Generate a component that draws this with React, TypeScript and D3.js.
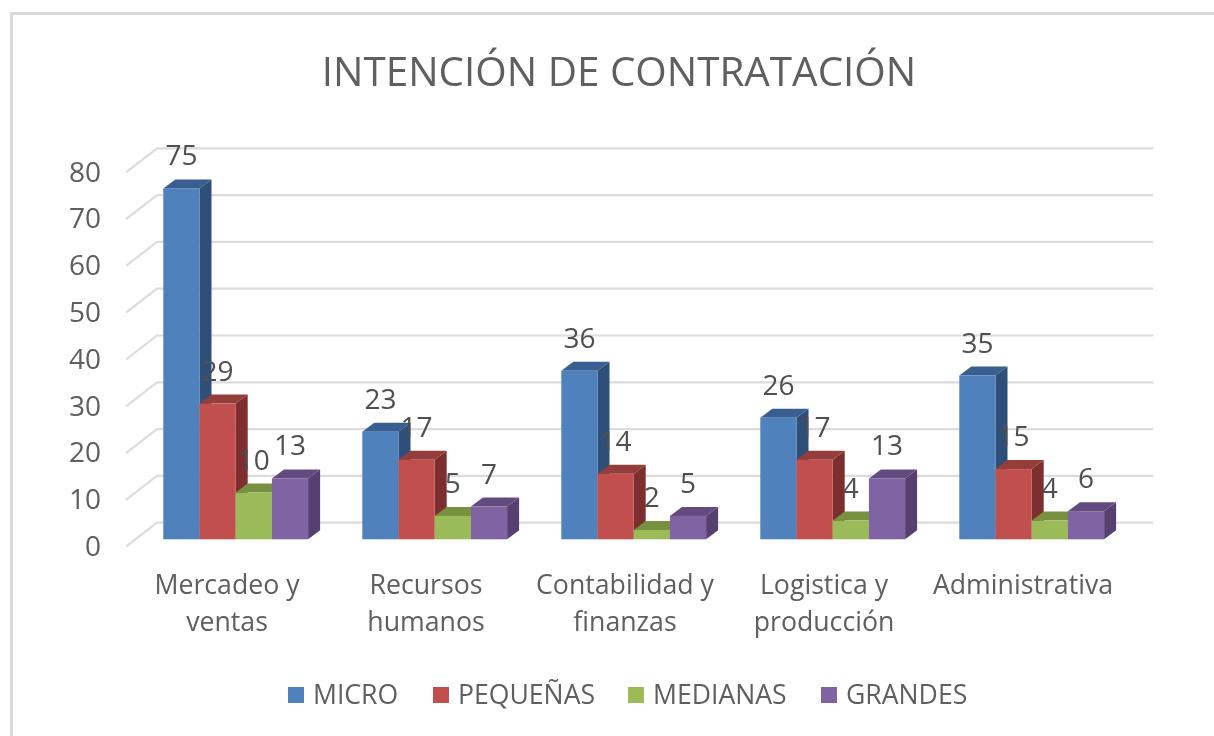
import React from "react";
import * as d3 from "d3";

const categories = [["Mercadeo y", "ventas"], ["Recursos", "humanos"], ["Contabilidad y", "finanzas"], ["Logistica y", "producción"], ["Administrativa"]];
const seriesNames = ["MICRO", "PEQUEÑAS", "MEDIANAS", "GRANDES"];
const micro = [75, 23, 36, 26, 35];
const pequenas = [29, 17, 14, 17, 15];
const medianas = [10, 5, 2, 4, 4];
const grandes = [13, 7, 5, 13, 6];
const seriesValues = [micro, pequenas, medianas, grandes];
const yTicks = [0, 10, 20, 30, 40, 50, 60, 70, 80];
const front = ["#4f81bd", "#c0504d", "#9bbb59", "#8064a2"];
const side = ["#2f5078", "#7d2f2d", "#76903f", "#54406f"];
const topc = ["#385f8f", "#943c3a", "#77913f", "#644c80"];
const font = "'Open Sans', sans-serif";
const txt = "#5e5e5e";

export default function App() {
  const y = d3.scaleLinear().domain([0, 80]).range([539.3, 165]);
  const x0 = d3.scaleBand<number>().domain(d3.range(5)).range([163.3 - 27, 163.3 - 27 + 995]).paddingInner(0).paddingOuter(0);
  const bw = 36.2;
  const dx = 12, dy = 9;
  const backY = d3.scaleLinear().domain([0, 80]).range([522.7, 148.3]);
  const legendX = [288, 433, 628, 821];
  return (
    <svg width={1214} height={736} style={{ position: "absolute", left: 0, top: 0, background: "#fff" }}>
      <defs><filter id="b" x="-5%" y="-5%" width="110%" height="110%"><feGaussianBlur stdDeviation="0.6" /></filter></defs>
      <g filter="url(#b)">
        <path d="M11.5,736V13.5H1214" fill="none" stroke="#d9d9d9" strokeWidth={3} />
        {yTicks.map(t => (
          <g key={t}>
            <path d={`M126,${backY(t) + 24}L157,${backY(t)}H1153`} fill="none" stroke="#dcdcdc" strokeWidth={2.2} />
            <text x={101} y={y(t) + 16.7} textAnchor="end" fontFamily={font} fontSize={28} fill={txt}>{t}</text>
          </g>
        ))}
        {categories.map((_, c) => {
          const gx = (x0(c) as number) + 27;
          return seriesValues.map((vals, s) => {
            const left = gx + s * bw, r = left + bw, t = y(vals[c]), b = y(0);
            return (
              <g key={`${c}-${s}`}>
                <path d={`M${r},${t}L${r + dx},${t - dy}V${b - dy}L${r},${b}Z`} fill={side[s]} />
                <path d={`M${left},${t}L${left + dx},${t - dy}H${r + dx}L${r},${t}Z`} fill={topc[s]} />
                <rect x={left} y={t} width={bw} height={b - t} fill={front[s]} />
              </g>
            );
          });
        })}
        {categories.map((_, c) => {
          const gx = (x0(c) as number) + 27;
          return seriesValues.map((vals, s) => (
            <text key={`${c}-${s}`} x={gx + s * bw + bw / 2} y={y(vals[c]) - 23} textAnchor="middle" fontFamily={font} fontSize={28} fill="#505050">{vals[c]}</text>
          ));
        })}
        {categories.map((lines, c) => (
          <text key={c} textAnchor="middle" fontFamily={font} fontSize={26.7} fill={txt}>
            {lines.map((l, i) => (
              <tspan key={i} x={(x0(c) as number) + 27 + 64 - 0.3} y={593.5 + i * 37}>{l}</tspan>
            ))}
          </text>
        ))}
        <text x={619} y={86} textAnchor="middle" fontFamily={font} fontSize={40.4} fill={txt}>INTENCIÓN DE CONTRATACIÓN</text>
        {seriesNames.map((n, i) => (
          <g key={n}>
            <rect x={legendX[i]} y={687} width={16} height={16} fill={front[i]} />
            <text x={legendX[i] + 25} y={703.5} fontFamily={font} fontSize={26.6} fill={txt}>{n}</text>
          </g>
        ))}
      </g>
    </svg>
  );
}
